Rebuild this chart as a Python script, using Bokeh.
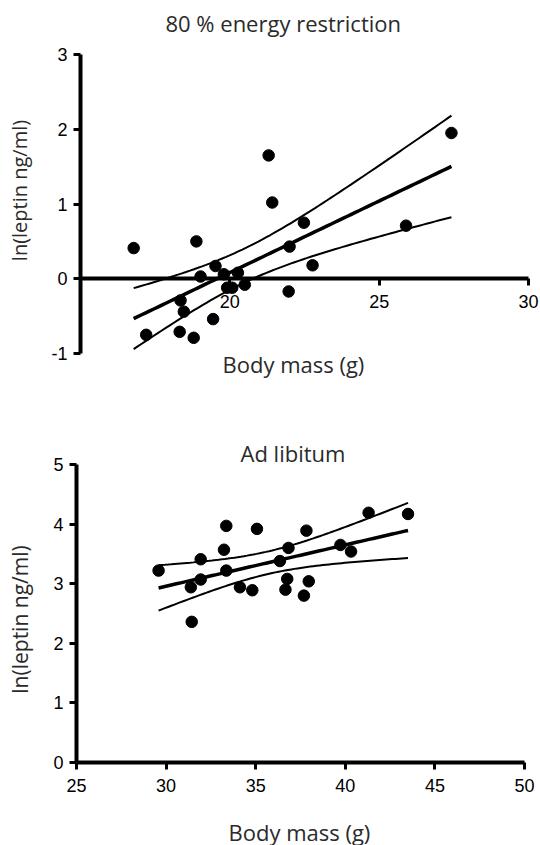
import numpy as np
from bokeh.plotting import figure
from bokeh.models import Range1d, LinearAxis, FixedTicker, Label
from bokeh.layouts import column
from bokeh.embed import file_html
from bokeh.resources import INLINE

# ---- data: 80 % energy restriction ----
er_mass = [16.78, 17.20, 18.32, 18.79, 18.35, 18.46, 18.88, 19.02, 19.44, 19.52, 19.80,
           19.91, 20.08, 20.27, 20.50, 21.30, 21.42, 22.00, 21.97, 22.48, 22.77, 25.90, 27.42]
er_leptin = [0.41, -0.75, -0.71, -0.79, -0.29, -0.44, 0.50, 0.03, -0.54, 0.17, 0.06,
             -0.12, -0.12, 0.08, -0.08, 1.65, 1.02, 0.43, -0.17, 0.75, 0.18, 0.71, 1.95]
er_xlim = (15, 30)
er_ylim = (-1, 3)
er_xticks = [20, 25, 30]
er_yticks = [-1, 0, 1, 2, 3]

# ---- data: Ad libitum ----
al_mass = [29.58, 31.38, 31.43, 31.93, 31.93, 33.23, 33.36, 33.36, 34.12, 34.81, 35.07,
           36.35, 36.76, 36.66, 36.83, 37.83, 37.69, 37.96, 39.73, 40.32, 41.30, 43.50]
al_leptin = [3.22, 2.94, 2.36, 3.41, 3.07, 3.57, 3.97, 3.22, 2.94, 2.89, 3.92,
             3.38, 3.08, 2.90, 3.60, 3.89, 2.80, 3.04, 3.65, 3.54, 4.19, 4.17]
al_xlim = (25, 50)
al_ylim = (0, 5)
al_xticks = [25, 30, 35, 40, 45, 50]
al_yticks = [0, 1, 2, 3, 4, 5]

TITLE_FONT = "Open Sans"
TICK_FONT = "Liberation Sans"
TEXT_COLOR = "#2a2a2a"
W = 540


def fit_band(x, y, t):
    x = np.asarray(x, dtype=float)
    y = np.asarray(y, dtype=float)
    n = len(x)
    b, a = np.polyfit(x, y, 1)
    xs = np.linspace(x.min(), x.max(), 80)
    yhat = a + b * xs
    resid = y - (a + b * x)
    s = np.sqrt(np.sum(resid ** 2) / (n - 2))
    sxx = np.sum((x - x.mean()) ** 2)
    se = s * np.sqrt(1.0 / n + (xs - x.mean()) ** 2 / sxx)
    return xs, yhat, yhat - t * se, yhat + t * se


def style_axis(ax, standoff):
    ax.axis_line_width = 4
    ax.axis_line_color = "black"
    ax.major_tick_line_width = 3
    ax.major_tick_line_color = "black"
    ax.major_tick_out = 7
    ax.major_tick_in = 0
    ax.minor_tick_out = 0
    ax.minor_tick_in = 0
    ax.major_label_text_font = TICK_FONT
    ax.major_label_text_font_size = "18px"
    ax.major_label_text_color = "black"
    ax.major_label_standoff = standoff


def add_text(p, x, y, text, dx, dy, size, align="left", angle=0.0):
    p.add_layout(Label(x=x, y=y, x_offset=dx, y_offset=dy, text=text, angle=angle,
                       text_font=TITLE_FONT, text_font_size=size, text_color=TEXT_COLOR,
                       text_align=align, text_baseline="alphabetic"))


def make_panel(mass, leptin, t, xlim, ylim, xticks, yticks, height, box, x_axis_at):
    # box = (left, top, right, bottom) pixel edges of the axes inside the canvas
    left, top, right, bottom = box
    sx = (right - left) / (xlim[1] - xlim[0])
    sy = (bottom - top) / (ylim[1] - ylim[0])
    xr = Range1d(xlim[0] - left / sx, xlim[1] + (W - right) / sx)
    yr = Range1d(ylim[0] - (height - bottom) / sy, ylim[1] + top / sy)
    p = figure(width=W, height=height, x_range=xr, y_range=yr,
               x_axis_type=None, y_axis_type=None, output_backend="svg",
               toolbar_location=None, min_border_left=0, min_border_right=0,
               min_border_top=0, min_border_bottom=0)
    p.title.visible = False
    p.outline_line_color = None
    p.background_fill_color = "white"
    p.border_fill_color = "white"

    ya = LinearAxis(ticker=FixedTicker(ticks=yticks), fixed_location=xlim[0],
                    bounds=ylim, major_label_overrides={v: str(v) for v in yticks})
    style_axis(ya, 6)
    p.add_layout(ya, "left")

    xa = LinearAxis(ticker=FixedTicker(ticks=xticks), fixed_location=x_axis_at,
                    bounds=xlim)
    style_axis(xa, 9)
    p.add_layout(xa, "below")

    xs, yhat, lo, hi = fit_band(mass, leptin, t)
    p.line(xs, hi, line_color="black", line_width=2)
    p.line(xs, lo, line_color="black", line_width=2)
    p.line(xs, yhat, line_color="black", line_width=3.5)
    p.scatter(mass, leptin, size=11.5, color="black")
    return p


# ---- top panel ----
p1 = make_panel(er_mass, er_leptin, 2.080, er_xlim, er_ylim, er_xticks, er_yticks,
                386, (80, 54, 528, 353), 0)
add_text(p1, er_xlim[0], er_ylim[1], "80 % energy restriction", 85, 32, "22px")
add_text(p1, er_xlim[0], er_ylim[0], "Body mass (g)", 142, -10, "22px")
add_text(p1, er_xlim[0], er_ylim[0], "ln(leptin ng/ml)", -61, 163, "20px",
         align="center", angle=np.pi / 2)

# ---- bottom panel ----
p2 = make_panel(al_mass, al_leptin, 2.086, al_xlim, al_ylim, al_xticks, al_yticks,
                459, (76, 78, 524, 376), 0)
add_text(p2, al_xlim[0], al_ylim[1], "Ad libitum", 164, 12, "22px")
add_text(p2, al_xlim[0], al_ylim[0], "Body mass (g)", 152, -69, "22px")
add_text(p2, al_xlim[0], al_ylim[0], "ln(leptin ng/ml)", -57, 143, "21px",
         align="center", angle=np.pi / 2)

layout = column(p1, p2)
open("out.html", "w").write(file_html(layout, INLINE))
